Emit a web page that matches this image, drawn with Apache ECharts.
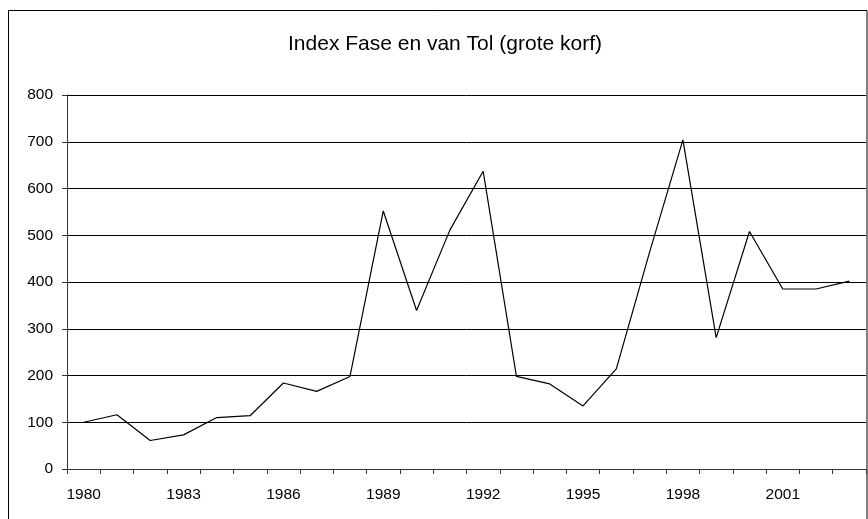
<!DOCTYPE html>
<html>
<head>
<meta charset="utf-8">
<script src="https://cdn.jsdelivr.net/npm/echarts@6/dist/echarts.min.js"></script>
<style>
  html, body { margin: 0; padding: 0; background: #fff; }
  #chart { width: 868px; height: 519px; }
</style>
</head>
<body>
<div id="chart"></div>
<script>
// jaren en indexwaarden
var years = ["1980", "1981", "1982", "1983", "1984", "1985", "1986", "1987", "1988", "1989", "1990", "1991",
             "1992", "1993", "1994", "1995", "1996", "1997", "1998", "1999", "2000", "2001", "2002", "2003"];
var indexValues = [100, 116, 61, 73, 110, 114, 184, 166, 198, 552, 339, 511,
                   637, 198, 182, 135, 214, 464, 704, 281, 508, 385, 385, 402];
var chartTitle = "Index Fase en van Tol (grote korf)";

var chart = echarts.init(document.getElementById("chart"));

var option = {
  backgroundColor: "#fff",
  animation: false,
  title: {
    text: chartTitle,
    left: 440,
    top: 29,
    textAlign: "center",
    textStyle: {
      fontFamily: "Liberation Sans",
      fontSize: 21,
      fontWeight: "normal",
      color: "#000"
    }
  },
  // buitenkader
  graphic: [
    {
      type: "rect",
      shape: { x: 8.5, y: 10.5, width: 858.5, height: 530 },
      style: { fill: null, stroke: "#000", lineWidth: 1 },
      silent: true
    }
  ],
  grid: {
    left: 67,
    right: 2,
    top: 95,
    bottom: 50
  },
  xAxis: {
    type: "category",
    data: years,
    boundaryGap: true,
    axisLine: { show: true, lineStyle: { color: "#333", width: 1 } },
    axisTick: { show: true, interval: 0, length: 5, lineStyle: { color: "#333" } },
    axisLabel: {
      interval: 2,
      margin: 18,
      color: "#000",
      fontFamily: "Liberation Sans",
      fontSize: 15.5
    },
    splitLine: { show: false }
  },
  yAxis: {
    type: "value",
    min: 0,
    max: 800,
    interval: 100,
    axisLine: { show: true, lineStyle: { color: "#333", width: 1 } },
    axisTick: { show: true, length: 5, lineStyle: { color: "#333" } },
    axisLabel: {
      margin: 14,
      color: "#000",
      fontFamily: "Liberation Sans",
      fontSize: 15.5
    },
    splitLine: { show: true, lineStyle: { color: "#000", width: 1 } }
  },
  series: [
    {
      name: "Index",
      type: "line",
      data: indexValues,
      symbol: "none",
      smooth: false,
      lineStyle: { color: "#000", width: 1.2 }
    }
  ]
};

chart.setOption(option);
</script>
</body>
</html>
